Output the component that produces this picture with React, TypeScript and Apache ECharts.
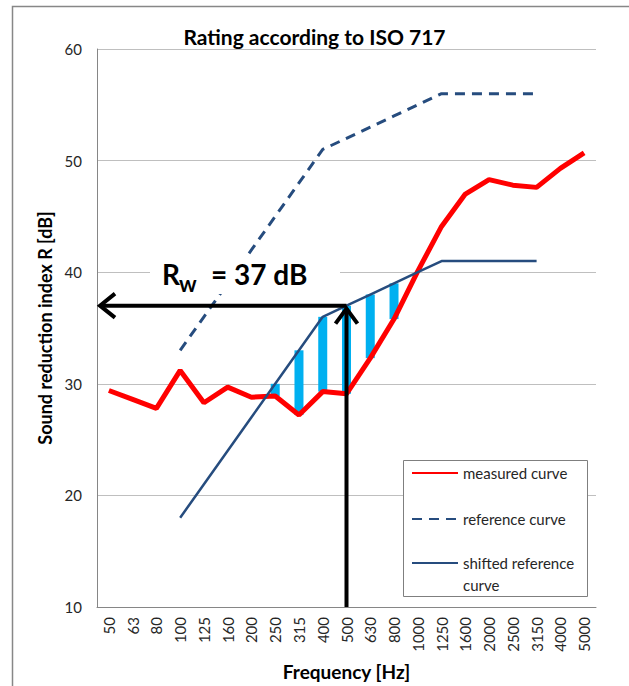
import React, { useEffect, useRef } from 'react';
import * as echarts from 'echarts';

const categories = ['50', '63', '80', '100', '125', '160', '200', '250', '315', '400', '500', '630', '800', '1000', '1250', '1600', '2000', '2500', '3150', '4000', '5000'];
const measured = [29.4, 28.6, 27.8, 31.2, 28.3, 29.7, 28.8, 28.9, 27.2, 29.3, 29.1, 32.3, 35.8, 40.1, 44.1, 47.0, 48.3, 47.8, 47.6, 49.3, 50.7];
const reference: (number | string)[] = ['-', '-', '-', 33, 36, 39, 42, 45, 48, 51, 52, 53, 54, 55, 56, 56, 56, 56, 56, '-', '-'];
const shifted: (number | string)[] = ['-', '-', '-', 18, 21, 24, 27, 30, 33, 36, 37, 38, 39, 40, 41, 41, 41, 41, 41, '-', '-'];
const seriesNames = ['measured curve', 'reference curve', 'shifted reference curve'];
const RATED_FREQ = '500';
const RW = 37;
const Y_MIN = 10;
const Y_MAX = 60;
const Y_STEP = 10;

const FONT = 'Lato, "Open Sans", sans-serif';
const BLUE = '#264C7E';

const hasDev = (i: number) => typeof shifted[i] === 'number' && (shifted[i] as number) > measured[i];
const deviationBase = measured.map((m, i) => (hasDev(i) ? m : '-'));
const deviation = measured.map((m, i) => (hasDev(i) ? +((shifted[i] as number) - m).toFixed(2) : '-'));

const legendBase = {
  left: 411, orient: 'vertical', padding: 0, itemWidth: 46, itemHeight: 14, selectedMode: false,
  itemStyle: { opacity: 0 },
};

export default function App() {
  const ref = useRef<HTMLDivElement>(null);
  useEffect(() => {
    if (!ref.current) return;
    const chart = echarts.init(ref.current, null, { renderer: 'svg' });
    const option: any = {
      animation: false,
      backgroundColor: '#fff',
      title: {
        text: 'Rating according to ISO 717',
        left: 'center',
        top: 26,
        padding: [0, 0, 0, 13],
        textStyle: { fontSize: 21, fontWeight: 'bold', color: '#000', fontFamily: FONT },
      },
      grid: { left: 97, right: 33, top: 49, bottom: 75, containLabel: false },
      legend: [
        {
          ...legendBase, data: [seriesNames[0]], top: 464,
          textStyle: { fontSize: 15, color: '#262626', fontFamily: FONT, lineHeight: 18 },
        },
        {
          ...legendBase, data: [seriesNames[1]], top: 510,
          textStyle: { fontSize: 15, color: '#262626', fontFamily: FONT, lineHeight: 18 },
        },
        {
          ...legendBase, data: [seriesNames[2]], top: 530,
          formatter: () => '\nshifted reference\ncurve',
          textStyle: { fontSize: 15, color: '#262626', fontFamily: FONT, lineHeight: 22 },
        },
      ],
      xAxis: {
        type: 'category',
        data: categories,
        boundaryGap: true,
        axisLine: { lineStyle: { color: '#868686', width: 1 } },
        axisTick: { show: false },
        axisLabel: { rotate: 90, interval: 0, margin: 10, fontSize: 15, color: '#262626', fontFamily: FONT },
        name: 'Frequency [Hz]',
        nameLocation: 'middle',
        nameGap: 55,
        nameTextStyle: { fontWeight: 'bold', fontSize: 19, color: '#000', fontFamily: FONT },
      },
      yAxis: {
        type: 'value',
        min: Y_MIN,
        max: Y_MAX,
        interval: Y_STEP,
        axisLine: { show: true, lineStyle: { color: '#868686', width: 1 } },
        axisTick: { show: false },
        splitLine: { lineStyle: { color: '#BFBFBF', width: 1 } },
        axisLabel: { margin: 15, fontSize: 15, color: '#262626', fontFamily: FONT },
        name: 'Sound reduction index R [dB]',
        nameLocation: 'middle',
        nameGap: 40,
        nameTextStyle: { fontWeight: 'bold', fontSize: 18, color: '#000', fontFamily: FONT },
      },
      series: [
        {
          type: 'bar', stack: 'dev', data: deviationBase, barWidth: 9, silent: true,
          itemStyle: { color: 'transparent' }, z: 1,
        },
        {
          type: 'bar', stack: 'dev', data: deviation, barWidth: 9, silent: true,
          itemStyle: { color: '#00B0F0' }, z: 1,
        },
        {
          name: seriesNames[0], type: 'line', data: measured, symbol: 'none',
          lineStyle: { color: '#FF0000', width: 5 }, itemStyle: { color: '#FF0000' }, z: 3,
        },
        {
          name: seriesNames[1], type: 'line', data: reference, symbol: 'none',
          lineStyle: { color: BLUE, width: 3, type: [10, 7] }, itemStyle: { color: BLUE }, z: 3,
        },
        {
          name: seriesNames[2], type: 'line', data: shifted, symbol: 'none',
          lineStyle: { color: BLUE, width: 2.5 }, itemStyle: { color: BLUE }, z: 3,
        },
      ],
    };
    chart.setOption(option);

    const idx = categories.indexOf(RATED_FREQ);
    const pTop = chart.convertToPixel({ gridIndex: 0 }, [idx, RW]) as number[];
    const pBot = chart.convertToPixel({ gridIndex: 0 }, [idx, Y_MIN]) as number[];
    const p0 = chart.convertToPixel({ gridIndex: 0 }, [0, RW]) as number[];
    const p1 = chart.convertToPixel({ gridIndex: 0 }, [1, RW]) as number[];
    const left = p0[0] - (p1[0] - p0[0]) / 2;
    const y = pTop[1];
    const x = pTop[0];
    const arrowStyle = { stroke: '#000', lineWidth: 4, fill: null, lineJoin: 'miter' };

    chart.setOption({
      graphic: {
        elements: [
          {
            type: 'rect', z: 0, silent: true,
            shape: { x: 12.5, y: 6.5, width: 700, height: 720 },
            style: { fill: null, stroke: '#878787', lineWidth: 1.5 },
          },
          {
            type: 'rect', z: 3, silent: true,
            shape: { x: 403.5, y: 460.5, width: 184, height: 136 },
            style: { fill: '#fff', stroke: '#7f7f7f', lineWidth: 1 },
          },
          {
            type: 'rect', z: 9, silent: true,
            shape: { x: 150, y: 256, width: 190, height: 38 },
            style: { fill: '#fff' },
          },
          {
            type: 'text', z: 10, x: 162, y: 274,
            style: { text: 'R', fontSize: 28, fontWeight: 'bold', fontFamily: FONT, fill: '#000', align: 'left', verticalAlign: 'middle' },
          },
          {
            type: 'text', z: 10, x: 179, y: 283,
            style: { text: 'w', fontSize: 22, fontWeight: 'bold', fontFamily: FONT, fill: '#000', align: 'left', verticalAlign: 'middle' },
          },
          {
            type: 'text', z: 10, x: 211, y: 274,
            style: { text: '= 37 dB', fontSize: 28, fontWeight: 'bold', fontFamily: FONT, fill: '#000', align: 'left', verticalAlign: 'middle' },
          },
          {
            type: 'line', z: 10, silent: true,
            shape: { x1: x, y1: y, x2: left + 3, y2: y },
            style: { stroke: '#000', lineWidth: 4 },
          },
          {
            type: 'polyline', z: 10, silent: true,
            shape: { points: [[left + 18, y - 12], [left + 3, y], [left + 18, y + 12]] },
            style: arrowStyle,
          },
          {
            type: 'line', z: 10, silent: true,
            shape: { x1: x, y1: pBot[1], x2: x, y2: y + 3 },
            style: { stroke: '#000', lineWidth: 4 },
          },
          {
            type: 'polyline', z: 10, silent: true,
            shape: { points: [[x - 11, y + 18], [x, y + 3], [x + 11, y + 18]] },
            style: arrowStyle,
          },
        ],
      },
    });

    return () => chart.dispose();
  }, []);
  return <div ref={ref} style={{ position: 'fixed', left: 0, top: 0, width: 629, height: 686 }} />;
}
